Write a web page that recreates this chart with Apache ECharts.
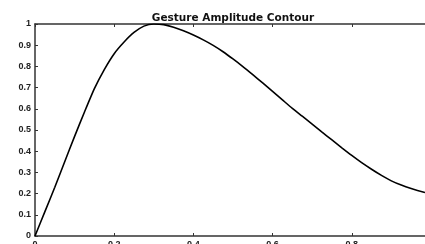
<!DOCTYPE html>
<html>
<head>
    <meta charset="utf-8">
    <title>Gesture Amplitude Contour</title>
    <script src="https://cdn.jsdelivr.net/npm/echarts@6/dist/echarts.min.js"></script>
    <style>
        html, body { margin: 0; padding: 0; background: #fff; }
    </style>
</head>
<body>
    <div id="main" style="width:425px;height:244px;"></div>
    <script type="text/javascript">
        // values
        var timePoints = [0, 0.025, 0.05, 0.075, 0.1, 0.125, 0.15, 0.175, 0.2, 0.225,
                          0.25, 0.275, 0.3, 0.325, 0.35, 0.375, 0.4, 0.425, 0.45, 0.475,
                          0.5, 0.525, 0.55, 0.575, 0.6, 0.625, 0.65, 0.675, 0.7, 0.725,
                          0.75, 0.775, 0.8, 0.825, 0.85, 0.875, 0.9, 0.925, 0.95, 0.985];
        var amplitude = [0, 0.115, 0.23, 0.35, 0.47, 0.585, 0.695, 0.785, 0.86, 0.915,
                         0.96, 0.99, 1.0, 0.997, 0.985, 0.968, 0.948, 0.925, 0.899, 0.869,
                         0.835, 0.799, 0.761, 0.722, 0.682, 0.642, 0.602, 0.565, 0.528, 0.49,
                         0.453, 0.416, 0.38, 0.346, 0.315, 0.286, 0.26, 0.24, 0.224, 0.205];
        var chartTitle = 'Gesture Amplitude Contour';

        var pairs = [];
        for (var i = 0; i < timePoints.length; i++) {
            pairs.push([timePoints[i], amplitude[i]]);
        }

        var labelFont = {
            color: '#222',
            fontSize: 9,
            fontWeight: 'bold',
            fontFamily: 'Liberation Sans'
        };

        var myChart = echarts.init(document.getElementById('main'));
        myChart.setOption({
            animation: false,
            title: {
                text: chartTitle,
                left: 228,
                textAlign: 'center',
                top: 8,
                textStyle: {
                    fontSize: 10.5,
                    fontWeight: 'bold',
                    color: '#111',
                    fontFamily: 'DejaVu Sans'
                }
            },
            grid: {
                left: 35,
                right: 0,
                top: 24,
                bottom: 8,
                outerBoundsMode: 'none'
            },
            xAxis: [{
                type: 'value',
                min: 0,
                max: 0.985,
                interval: 0.2,
                position: 'bottom',
                axisLine: { lineStyle: { color: '#333', width: 1.5 } },
                axisTick: { inside: true, length: 3, lineStyle: { color: '#333' } },
                axisLabel: Object.assign({ margin: 4, showMaxLabel: false }, labelFont),
                splitLine: { show: false }
            }, {
                type: 'value',
                min: 0,
                max: 0.985,
                interval: 0.2,
                position: 'top',
                axisLine: { lineStyle: { color: '#333', width: 1.5 } },
                axisTick: { inside: true, length: 3, lineStyle: { color: '#333' } },
                axisLabel: { show: false },
                splitLine: { show: false }
            }],
            yAxis: {
                type: 'value',
                min: 0,
                max: 1,
                interval: 0.1,
                axisLine: { show: true, lineStyle: { color: '#333', width: 1.5 } },
                axisTick: { show: true, inside: true, length: 3, lineStyle: { color: '#333' } },
                axisLabel: Object.assign({ margin: 4 }, labelFont),
                splitLine: { show: false }
            },
            series: [{
                type: 'line',
                data: pairs,
                smooth: 0.2,
                showSymbol: false,
                lineStyle: { color: '#000', width: 1.6 }
            }]
        });
    </script>
</body>
</html>
